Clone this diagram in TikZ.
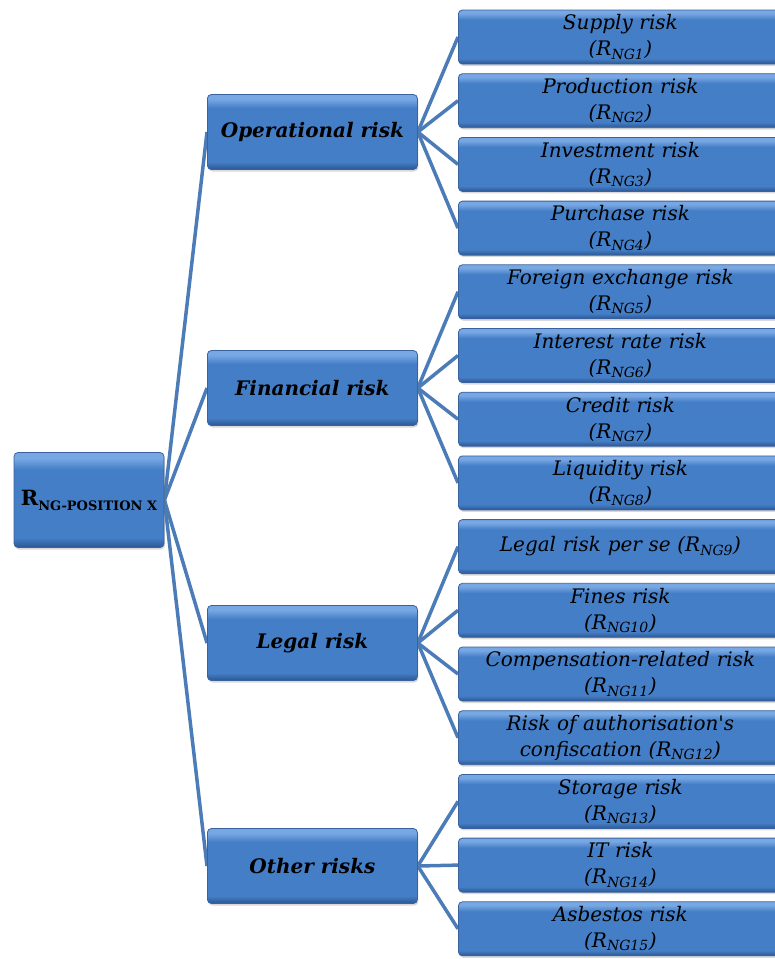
\documentclass[tikz,border=0pt]{standalone}
\usepackage{fontspec}
\setmainfont{DejaVu Serif}
\usetikzlibrary{positioning,shadows,backgrounds}

\definecolor{boxtop}{RGB}{120,168,228}
\definecolor{boxmid}{RGB}{68,126,198}
\definecolor{boxbot}{RGB}{44,86,146}
\definecolor{boxedge}{RGB}{58,98,158}
\definecolor{linkblue}{RGB}{76,124,184}

\pgfdeclareverticalshading{riskshade}{100bp}{color(0bp)=(boxbot); color(25bp)=(boxbot);
  color(30bp)=(boxmid); color(66bp)=(boxmid); color(72bp)=(boxtop); color(75bp)=(boxtop); color(100bp)=(boxtop)}

\newcommand{\rng}[1]{\textit{R}\textsubscript{\textit{NG#1}}}

\tikzset{
  riskbox/.style={draw=boxedge,line width=0.8pt,rounded corners=4pt,shading=riskshade,
    drop shadow={opacity=0.3,shadow xshift=1pt,shadow yshift=-2pt},
    align=center,inner sep=2pt},
  rootbox/.style={riskbox,minimum width=150pt,minimum height=95pt,
    font=\fontsize{21}{24}\selectfont\bfseries},
  groupbox/.style={riskbox,anchor=west,minimum width=210pt,minimum height=75pt,
    font=\fontsize{20}{24}\selectfont\bfseries\itshape},
  leafbox/.style={riskbox,anchor=west,minimum width=324pt,minimum height=54pt,
    text width=316pt,font=\fontsize{20}{26}\selectfont\itshape},
  link/.style={draw=linkblue,line width=3.5pt}
}

\begin{document}
\begin{tikzpicture}[x=1pt,y=-1pt]
\useasboundingbox (0,0) rectangle (775,959);
% root and risk groups
\node[rootbox] (root) at (89,500) {R\raisebox{-0.45ex}{\fontsize{13}{13}\selectfont NG-POSITION X}};
\node[groupbox] (op) at (207,132) {Operational risk};
\node[groupbox] (fin) at (207,388) {Financial risk};
\node[groupbox] (leg) at (207,643) {Legal risk};
\node[groupbox] (oth) at (207,866) {Other risks};
% single risks
\node[leafbox] (l1) at (458,37) {Supply risk\\(\rng{1})};
\node[leafbox] (l2) at (458,100.7) {Production risk\\(\rng{2})};
\node[leafbox] (l3) at (458,164.4) {Investment risk\\(\rng{3})};
\node[leafbox] (l4) at (458,228.1) {Purchase risk\\(\rng{4})};
\node[leafbox] (l5) at (458,291.8) {Foreign exchange risk\\(\rng{5})};
\node[leafbox] (l6) at (458,355.5) {Interest rate risk\\(\rng{6})};
\node[leafbox] (l7) at (458,419.2) {Credit risk\\(\rng{7})};
\node[leafbox] (l8) at (458,482.9) {Liquidity risk\\(\rng{8})};
\node[leafbox] (l9) at (458,546.6) {Legal risk per se (\rng{9})};
\node[leafbox] (l10) at (458,610.3) {Fines risk\\(\rng{10})};
\node[leafbox] (l11) at (458,674) {Compensation-related risk\\(\rng{11})};
\node[leafbox] (l12) at (458,737.7) {Risk of authorisation\textquotesingle s\\confiscation (\rng{12})};
\node[leafbox] (l13) at (458,801.4) {Storage risk\\(\rng{13})};
\node[leafbox] (l14) at (458,865.1) {IT risk\\(\rng{14})};
\node[leafbox] (l15) at (458,928.8) {Asbestos risk\\(\rng{15})};
\begin{pgfonlayer}{background}
\draw[link] (root.east) -- (op.west);
\draw[link] (root.east) -- (fin.west);
\draw[link] (root.east) -- (leg.west);
\draw[link] (root.east) -- (oth.west);
\draw[link] (op.east) -- (l1.west);
\draw[link] (op.east) -- (l2.west);
\draw[link] (op.east) -- (l3.west);
\draw[link] (op.east) -- (l4.west);
\draw[link] (fin.east) -- (l5.west);
\draw[link] (fin.east) -- (l6.west);
\draw[link] (fin.east) -- (l7.west);
\draw[link] (fin.east) -- (l8.west);
\draw[link] (leg.east) -- (l9.west);
\draw[link] (leg.east) -- (l10.west);
\draw[link] (leg.east) -- (l11.west);
\draw[link] (leg.east) -- (l12.west);
\draw[link] (oth.east) -- (l13.west);
\draw[link] (oth.east) -- (l14.west);
\draw[link] (oth.east) -- (l15.west);
\end{pgfonlayer}
\end{tikzpicture}
\end{document}
